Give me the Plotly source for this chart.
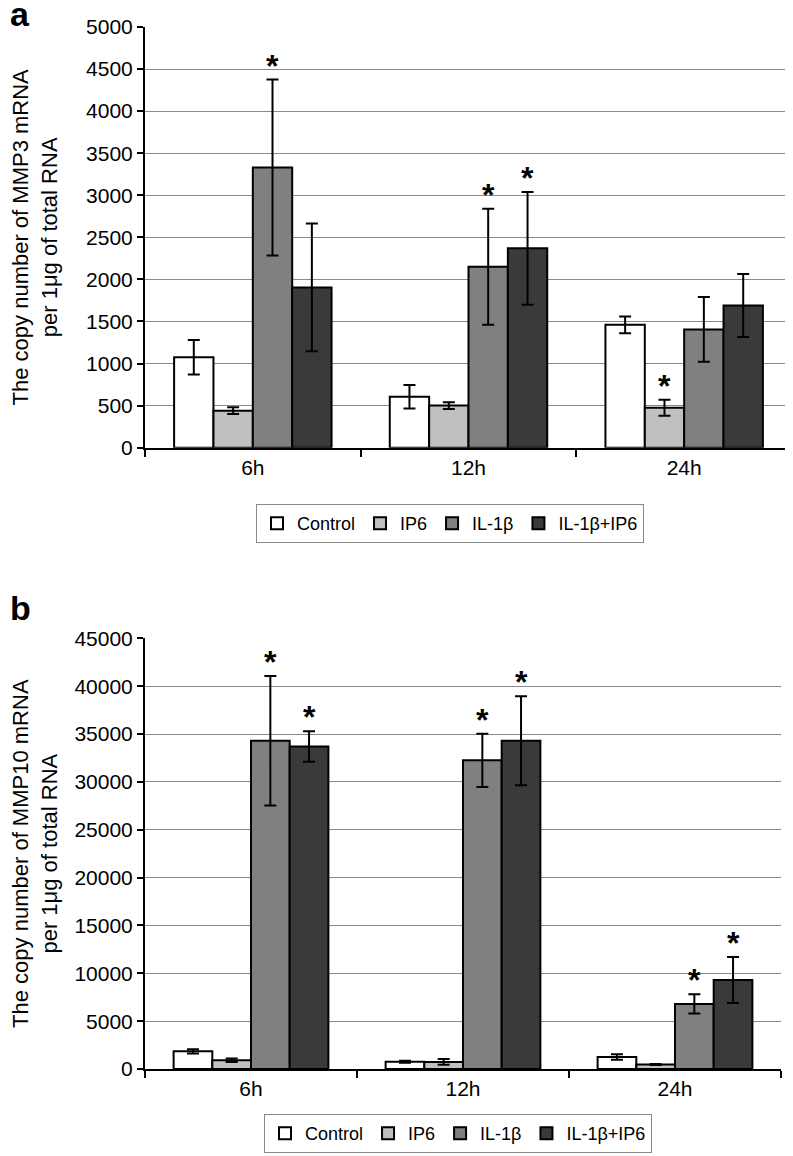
import plotly.graph_objects as go
from plotly.subplots import make_subplots

FONT = "Liberation Sans, Arial, sans-serif"

timepoints = ["6h", "12h", "24h"]
groups = ["Control", "IP6", "IL-1β", "IL-1β+IP6"]
colors = ["#ffffff", "#c0c0c0", "#808080", "#3a3a3a"]

# Panel a: MMP3
mmp3_control = [1075, 605, 1460]
mmp3_ip6 = [440, 500, 475]
mmp3_il1b = [3330, 2150, 1405]
mmp3_il1b_ip6 = [1905, 2370, 1690]
mmp3_control_err = [205, 140, 100]
mmp3_ip6_err = [40, 40, 95]
mmp3_il1b_err = [1045, 690, 385]
mmp3_il1b_ip6_err = [760, 670, 375]
# significance flags (group index, timepoint index)
mmp3_stars = [(2, 0), (2, 1), (3, 1), (1, 2)]

# Panel b: MMP10
mmp10_control = [1850, 760, 1250]
mmp10_ip6 = [920, 740, 470]
mmp10_il1b = [34300, 32250, 6800]
mmp10_il1b_ip6 = [33700, 34300, 9300]
mmp10_control_err = [220, 100, 280]
mmp10_ip6_err = [180, 300, 40]
mmp10_il1b_err = [6770, 2780, 1000]
mmp10_il1b_ip6_err = [1600, 4650, 2400]
mmp10_stars = [(2, 0), (3, 0), (2, 1), (3, 1), (2, 2), (3, 2)]

BARGAP = 0.27

fig = make_subplots(rows=2, cols=1)

panels = [
    (1, [mmp3_control, mmp3_ip6, mmp3_il1b, mmp3_il1b_ip6],
     [mmp3_control_err, mmp3_ip6_err, mmp3_il1b_err, mmp3_il1b_ip6_err],
     mmp3_stars, "legend", "x", "y"),
    (2, [mmp10_control, mmp10_ip6, mmp10_il1b, mmp10_il1b_ip6],
     [mmp10_control_err, mmp10_ip6_err, mmp10_il1b_err, mmp10_il1b_ip6_err],
     mmp10_stars, "legend2", "x2", "y2"),
]

annotations = []
w = (1 - BARGAP) / 4
for row, vals, errs, stars, leg, xr, yr in panels:
    for i, g in enumerate(groups):
        fig.add_trace(go.Bar(
            x=timepoints, y=vals[i], name=g, legend=leg,
            marker=dict(color=colors[i], line=dict(color="#000000", width=2)),
            error_y=dict(type="data", array=errs[i], visible=True,
                         color="#000000", thickness=2, width=6),
        ), row=row, col=1)
    for gi, ti in stars:
        xc = ti - (1 - BARGAP) / 2 + (gi + 0.5) * w
        annotations.append(dict(
            x=xc, y=vals[gi][ti] + errs[gi][ti], xref=xr, yref=yr,
            text="<b>*</b>", showarrow=False, yanchor="bottom",
            font=dict(family=FONT, size=32, color="#000000"), yshift=-6))

DOM_A = [0.5963, 1.0]
DOM_B = [0.0, 0.4133]

annotations.append(dict(x=0, y=DOM_A[1], xref="paper", yref="paper", xanchor="left",
                        yanchor="bottom", xshift=-137, yshift=-8,
                        text="<b>a</b>", showarrow=False,
                        font=dict(family=FONT, size=34, color="#000000")))
annotations.append(dict(x=0, y=DOM_B[1], xref="paper", yref="paper", xanchor="left",
                        yanchor="bottom", xshift=-137, yshift=9,
                        text="<b>b</b>", showarrow=False,
                        font=dict(family=FONT, size=34, color="#000000")))

axis_common = dict(showline=True, linecolor="#000000", linewidth=2,
                   ticks="outside", tickcolor="#000000", tickwidth=2,
                   automargin=False,
                   tickfont=dict(family=FONT, size=21, color="#000000"))

fig.update_xaxes(type="category", tickson="boundaries", ticklen=7,
                 showgrid=False, **axis_common)
fig.update_yaxes(showgrid=True, gridcolor="#8a8a8a", gridwidth=1,
                 ticklen=6, zeroline=False, tickformat="d", **axis_common)

legend_common = dict(orientation="h", xanchor="center", yanchor="top",
                     bordercolor="#888888", borderwidth=1, bgcolor="white",
                     itemwidth=30, traceorder="normal",
                     font=dict(family=FONT, size=18, color="#000000"))

fig.update_layout(
    width=785, height=1148,
    margin=dict(l=137, r=1, t=19, b=87, autoexpand=False),
    plot_bgcolor="white", paper_bgcolor="white",
    barmode="group", bargap=BARGAP, bargroupgap=0,
    font=dict(family=FONT, color="#000000"),
    xaxis=dict(domain=[0, 1]),
    yaxis=dict(domain=DOM_A, range=[0, 5000], dtick=500,
               title=dict(text="The copy number of MMP3 mRNA<br>per 1μg of total RNA",
                          font=dict(family=FONT, size=22), standoff=30)),
    xaxis2=dict(domain=[0, 0.983]),
    yaxis2=dict(domain=DOM_B, range=[0, 45000], dtick=5000,
                title=dict(text="The copy number of MMP10 mRNA<br>per 1μg of total RNA",
                           font=dict(family=FONT, size=22), standoff=30)),
    legend=dict(x=0.4714, y=0.5422, **legend_common),
    legend2=dict(x=0.4838, y=-0.0432, **legend_common),
    annotations=annotations,
)

fig.write_html("out.html")
